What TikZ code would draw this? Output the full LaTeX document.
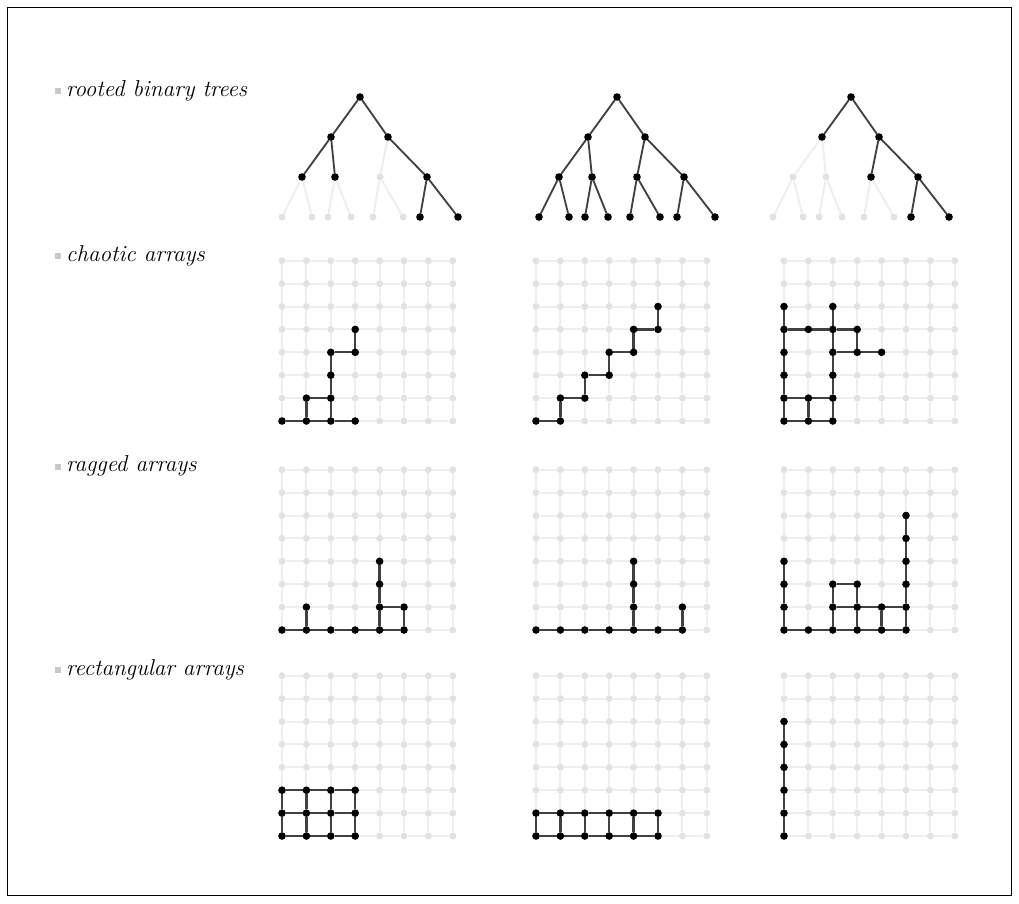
\documentclass[tikz,border=0pt]{standalone}
\usepackage{tikz}
\definecolor{punktgrau}{RGB}{226,226,226}
\definecolor{liniengrau}{RGB}{238,238,238}
\definecolor{kantengrau}{RGB}{64,64,64}
\definecolor{markengrau}{RGB}{200,200,200}

% Baum: Knoten 0 (Wurzel) bis 14 (Blaetter), Kinder von k sind 2k+1 und 2k+2
\newcommand{\baum}[2]{%
  \foreach \k/\dx/\y in {0/78/97,1/49/137,2/106/137,3/20/177,4/53/177,5/98/177,6/145/177,
      7/0/217,8/30/217,9/46/217,10/69/217,11/91/217,12/121/217,13/138/217,14/176/217}
    \node[leer] (#1-\k) at ({#2+\dx},\y) {};
  \foreach \k in {1,...,14}{
    \pgfmathtruncatemacro{\p}{(\k-1)/2}
    \draw[hellkante] (#1-\p) -- (#1-\k);}
}
% 8x8 Gitter, #2/#3 = linker unterer Punkt
\newcommand{\gitter}[3]{%
  \foreach \i in {0,...,7}
    \foreach \j in {0,...,7}
      \node[leer] (#1-\i-\j) at ({#2+24.4*\i},{#3-22.9*\j}) {};
  \foreach \a [evaluate=\a as \b using int(\a+1)] in {0,...,6}
    \foreach \c in {0,...,7}{
      \draw[hellkante] (#1-\a-\c) -- (#1-\b-\c);
      \draw[hellkante] (#1-\c-\a) -- (#1-\c-\b);}
}
% schwarze Punkte
\newcommand{\punkte}[2]{\foreach \q in {#2} \node[punkt] (#1-s\q) at (#1-\q) {};}

\begin{document}
\begin{tikzpicture}[x=1pt, y=-1pt,
		leer/.style={circle, fill=punktgrau, minimum size=7pt, inner sep=0pt},
		punkt/.style={circle, fill=black, minimum size=7.6pt, inner sep=0pt},
		hellkante/.style={draw=liniengrau, line width=2pt},
		kante/.style={draw=kantengrau, line width=2.3pt},
		baumkante/.style={draw=kantengrau, line width=1.8pt},
		marke/.style={rectangle, fill=markengrau, minimum size=6pt, inner sep=0pt},
		titel/.style={anchor=base west, inner sep=0pt, font=\fontsize{23}{26}\selectfont\itshape}]
	\useasboundingbox (0,0) rectangle (1019,903);
	%Rahmen
	\draw[line width=1pt] (7.5,7.5) rectangle (1011.5,895.5);
	%Beschriftung
	\node[marke] (m1) at (58,91) {};
	\node[titel] (l1) at (66,96) {rooted binary trees};
	\node[marke] (m2) at (58,256) {};
	\node[titel] (l2) at (66,261) {chaotic arrays};
	\node[marke] (m3) at (58,467) {};
	\node[titel] (l3) at (66,471) {ragged arrays};
	\node[marke] (m4) at (58,670) {};
	\node[titel] (l4) at (66,675) {rectangular arrays};
	%Baeume
	\baum{b1}{282}
	\baum{b2}{539}
	\baum{b3}{773}
	\draw[baumkante] (b1-3) -- (b1-1) -- (b1-0) -- (b1-2) -- (b1-6) -- (b1-14);
	\draw[baumkante] (b1-1) -- (b1-4);
	\draw[baumkante] (b1-6) -- (b1-13);
	\punkte{b1}{0,1,2,3,4,6,13,14}
	\foreach \k in {1,...,14}{
		\pgfmathtruncatemacro{\p}{(\k-1)/2}
		\draw[baumkante] (b2-\p) -- (b2-\k);}
	\punkte{b2}{0,...,14}
	\draw[baumkante] (b3-1) -- (b3-0) -- (b3-2) -- (b3-6) -- (b3-14);
	\draw[baumkante] (b3-2) -- (b3-5);
	\draw[baumkante] (b3-6) -- (b3-13);
	\punkte{b3}{0,1,2,5,6,13,14}
	%chaotische Felder
	\gitter{c1}{282}{421}
	\gitter{c2}{536}{421}
	\gitter{c3}{784}{421}
	\draw[kante] (c1-0-0) -- (c1-1-0) -- (c1-2-0) -- (c1-3-0);
	\draw[kante] (c1-1-0) -- (c1-1-1) -- (c1-2-1);
	\draw[kante] (c1-2-0) -- (c1-2-1) -- (c1-2-2) -- (c1-2-3) -- (c1-3-3) -- (c1-3-4);
	\punkte{c1}{0-0,1-0,2-0,3-0,1-1,2-1,2-2,2-3,3-3,3-4}
	\draw[kante] (c2-0-0) -- (c2-1-0) -- (c2-1-1) -- (c2-2-1) -- (c2-2-2) -- (c2-3-2)
		-- (c2-3-3) -- (c2-4-3) -- (c2-4-4) -- (c2-5-4) -- (c2-5-5);
	\punkte{c2}{0-0,1-0,1-1,2-1,2-2,3-2,3-3,4-3,4-4,5-4,5-5}
	\draw[kante] (c3-0-0) -- (c3-0-1) -- (c3-0-2) -- (c3-0-3) -- (c3-0-4) -- (c3-0-5);
	\draw[kante] (c3-0-0) -- (c3-1-0) -- (c3-2-0);
	\draw[kante] (c3-0-1) -- (c3-1-1) -- (c3-2-1);
	\draw[kante] (c3-1-0) -- (c3-1-1);
	\draw[kante] (c3-2-0) -- (c3-2-1) -- (c3-2-2) -- (c3-2-3) -- (c3-2-4) -- (c3-2-5);
	\draw[kante] (c3-0-4) -- (c3-1-4) -- (c3-2-4) -- (c3-3-4) -- (c3-3-3);
	\draw[kante] (c3-2-3) -- (c3-3-3) -- (c3-4-3);
	\punkte{c3}{0-0,0-1,0-2,0-3,0-4,0-5,1-0,2-0,1-1,2-1,2-2,2-3,2-4,2-5,1-4,3-4,3-3,4-3}
	%ausgefranste Felder
	\gitter{q1}{282}{630}
	\gitter{q2}{536}{630}
	\gitter{q3}{784}{630}
	\draw[kante] (q1-0-0) -- (q1-1-0) -- (q1-2-0) -- (q1-3-0) -- (q1-4-0) -- (q1-5-0);
	\draw[kante] (q1-1-0) -- (q1-1-1);
	\draw[kante] (q1-4-0) -- (q1-4-1) -- (q1-4-2) -- (q1-4-3);
	\draw[kante] (q1-4-1) -- (q1-5-1) -- (q1-5-0);
	\punkte{q1}{0-0,1-0,2-0,3-0,4-0,5-0,1-1,4-1,4-2,4-3,5-1}
	\draw[kante] (q2-0-0) -- (q2-1-0) -- (q2-2-0) -- (q2-3-0) -- (q2-4-0) -- (q2-5-0) -- (q2-6-0);
	\draw[kante] (q2-4-0) -- (q2-4-1) -- (q2-4-2) -- (q2-4-3);
	\draw[kante] (q2-6-0) -- (q2-6-1);
	\punkte{q2}{0-0,1-0,2-0,3-0,4-0,5-0,6-0,4-1,4-2,4-3,6-1}
	\draw[kante] (q3-0-0) -- (q3-1-0) -- (q3-2-0) -- (q3-3-0) -- (q3-4-0) -- (q3-5-0);
	\draw[kante] (q3-0-0) -- (q3-0-1) -- (q3-0-2) -- (q3-0-3);
	\draw[kante] (q3-2-0) -- (q3-2-1) -- (q3-2-2) -- (q3-3-2) -- (q3-3-1) -- (q3-3-0);
	\draw[kante] (q3-2-1) -- (q3-3-1) -- (q3-4-1) -- (q3-5-1);
	\draw[kante] (q3-4-0) -- (q3-4-1);
	\draw[kante] (q3-5-0) -- (q3-5-1) -- (q3-5-2) -- (q3-5-3) -- (q3-5-4) -- (q3-5-5);
	\punkte{q3}{0-0,1-0,2-0,3-0,4-0,5-0,0-1,0-2,0-3,2-1,3-1,4-1,5-1,2-2,3-2,5-2,5-3,5-4,5-5}
	%rechteckige Felder
	\gitter{r1}{282}{836}
	\gitter{r2}{536}{836}
	\gitter{r3}{784}{836}
	\foreach \j in {0,1,2} \draw[kante] (r1-0-\j) -- (r1-1-\j) -- (r1-2-\j) -- (r1-3-\j);
	\foreach \i in {0,...,3} \draw[kante] (r1-\i-0) -- (r1-\i-1) -- (r1-\i-2);
	\punkte{r1}{0-0,1-0,2-0,3-0,0-1,1-1,2-1,3-1,0-2,1-2,2-2,3-2}
	\foreach \j in {0,1} \draw[kante] (r2-0-\j) -- (r2-1-\j) -- (r2-2-\j) -- (r2-3-\j) -- (r2-4-\j) -- (r2-5-\j);
	\foreach \i in {0,...,5} \draw[kante] (r2-\i-0) -- (r2-\i-1);
	\punkte{r2}{0-0,1-0,2-0,3-0,4-0,5-0,0-1,1-1,2-1,3-1,4-1,5-1}
	\draw[kante] (r3-0-0) -- (r3-0-1) -- (r3-0-2) -- (r3-0-3) -- (r3-0-4) -- (r3-0-5);
	\punkte{r3}{0-0,0-1,0-2,0-3,0-4,0-5}
\end{tikzpicture}
\end{document}
